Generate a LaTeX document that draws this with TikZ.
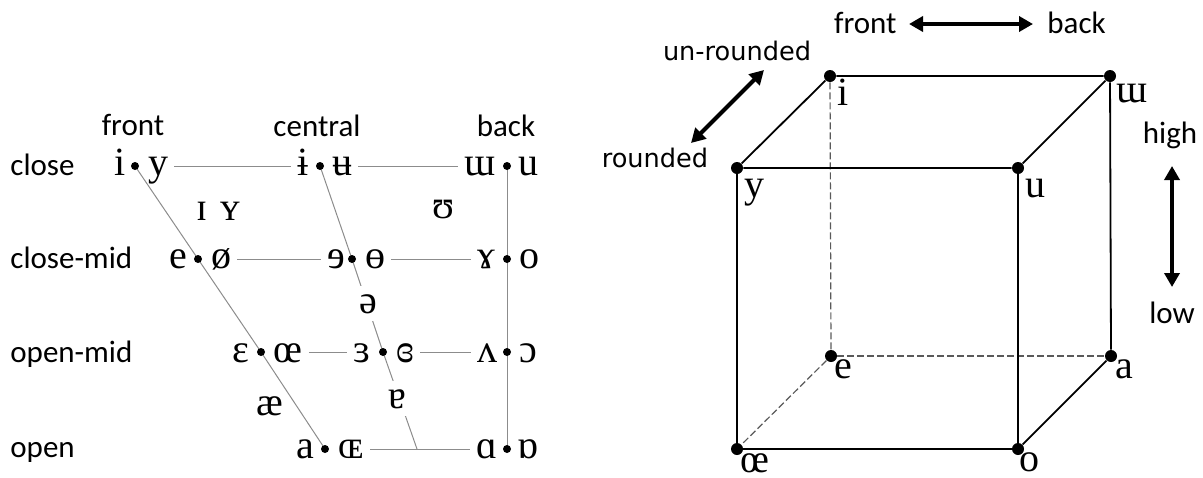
\documentclass[tikz,border=0pt]{standalone}
\usepackage{fontspec}
\setmainfont{Liberation Serif}
\newfontfamily\labfont{Carlito}
\newfontfamily\djfont{DejaVu Sans}
\usetikzlibrary{arrows.meta}
\begin{document}
\begin{tikzpicture}[x=0.5pt,y=-0.5pt,
  ipa/.style={anchor=base,inner sep=0pt,font=\fontsize{20}{24}\selectfont},
  lab/.style={anchor=base,inner sep=0pt,font=\labfont\fontsize{15.5}{18}\selectfont},
  djlab/.style={anchor=base,inner sep=0pt,font=\djfont\fontsize{12.8}{15}\selectfont},
  vdot/.style={circle,fill=black,inner sep=0pt,minimum size=4pt},
  bigdot/.style={circle,fill=black,inner sep=0pt,minimum size=6pt},
  gline/.style={draw=black!45, line width=0.5pt},
  hline/.style={gline, shorten <=3pt, shorten >=3pt},
  cubeline/.style={line width=0.9pt},
  dashline/.style={line width=0.6pt, draw=black!65, dash pattern=on 3.5pt off 1.5pt},
  dbl/.style={line width=2pt,{Triangle[length=7pt,width=7.5pt]}-{Triangle[length=7pt,width=7.5pt]}},
  gap/.style={fill=white, inner sep=4pt}
]
\useasboundingbox (0,0) rectangle (1203,477);

% ---------------- left chart ----------------
\coordinate (pF1) at (135,166); \coordinate (pC1) at (320,166); \coordinate (pB1) at (507,166);
\coordinate (pF2) at (198,259); \coordinate (pC2) at (352,259); \coordinate (pB2) at (507,259);
\coordinate (pF3) at (261,352); \coordinate (pC3) at (383,352); \coordinate (pB3) at (507,352);
\coordinate (pF4) at (325,449); \coordinate (pC4) at (417,449); \coordinate (pB4) at (507,449);

% headers and row labels
\node[lab] (hFront) at (133,135) {front};
\node[lab] (hCentral) at (317,136) {central};
\node[lab] (hBack) at (506,136) {back};
\node[lab,anchor=base west] (rClose) at (10,175) {close};
\node[lab,anchor=base west] (rCloseMid) at (10,268) {close-mid};
\node[lab,anchor=base west] (rOpenMid) at (10,362) {open-mid};
\node[lab,anchor=base west] (rOpen) at (10,457) {open};

% vowel letters
\node[ipa] (l11) at (120,175) {i};  \node[ipa] (r11) at (158,175) {y};
\node[ipa] (l12) at (303,175) {ɨ};  \node[ipa] (r12) at (342,175) {ʉ};
\node[ipa] (l13) at (480,175) {ɯ};  \node[ipa] (r13) at (528,175) {u};
\node[ipa] (l21) at (178,268) {e};  \node[ipa] (r21) at (221,268) {ø};
\node[ipa] (l22) at (336,268) {ɘ};  \node[ipa] (r22) at (375,268) {ɵ};
\node[ipa] (l23) at (486,268) {ɤ};  \node[ipa] (r23) at (529,268) {o};
\node[ipa] (l31) at (241,362) {ɛ};  \node[ipa] (r31) at (288,362) {œ};
\node[ipa] (l32) at (362,362) {ɜ};  \node[ipa] (r32) at (405,362) {ɞ};
\node[ipa] (l33) at (487,362) {ʌ};  \node[ipa] (r33) at (528,362) {ɔ};
\node[ipa] (l41) at (305,458) {a};  \node[ipa] (r41) at (351,458) {ɶ};
\node[ipa] (l43) at (487,458) {ɑ};  \node[ipa] (r43) at (528,458) {ɒ};
\node[ipa] (sI) at (202,220) {ɪ};
\node[ipa] (sY) at (230,220) {ʏ};
\node[ipa] (sU) at (443,218) {ʊ};
\node[ipa] (sAE) at (270,415) {æ};

% horizontal lines
\draw[hline] (r11.east |- pF1) -- (l12.west |- pF1);
\draw[hline] (r12.east |- pF1) -- (l13.west |- pF1);
\draw[hline] (r21.east |- pF2) -- (l22.west |- pF2);
\draw[hline] (r22.east |- pF2) -- (l23.west |- pF2);
\draw[hline] (r31.east |- pF3) -- (l32.west |- pF3);
\draw[hline] (r32.east |- pF3) -- (l33.west |- pF3);
\draw[hline] (r41.east |- pF4) -- (l43.west |- pF4);

% slanted / vertical lines
\draw[gline] (pF1) -- (pF2) -- (pF3) -- (pF4);
\draw[gline] (pC1) -- (pC2) -- (pC3) -- (pC4);
\draw[gline] (pB1) -- (pB4);
\node[ipa,gap] (schwa) at (368,313) {ə};
\node[ipa,gap] (turnA) at (397,408) {ɐ};

\foreach \p in {F1,C1,B1,F2,C2,B2,F3,C3,B3,F4,B4}
  \node[vdot] (d\p) at (p\p) {};

% ---------------- cube ----------------
\node[bigdot] (vI) at (830,76) {};
\node[bigdot] (vW) at (1110,76) {};
\node[bigdot] (vY) at (737,168) {};
\node[bigdot] (vU) at (1018,168) {};
\node[bigdot] (vE) at (831,356) {};
\node[bigdot] (vA) at (1111,356) {};
\node[bigdot] (vOE) at (737,449) {};
\node[bigdot] (vO) at (1018,449) {};

\draw[dashline] (vI) -- (vE);
\draw[dashline] (vE) -- (vA);
\draw[dashline] (vE) -- (vOE);
\draw[cubeline] (vY) -- (vI) -- (vW) -- (vU) -- (vY);
\draw[cubeline] (vY) -- (vOE) -- (vO) -- (vU);
\draw[cubeline] (vW) -- (vA) -- (vO);

\node[ipa] (cI) at (843,105) {i};
\node[ipa] (cW) at (1132,102) {ɯ};
\node[ipa] (cY) at (754,197) {y};
\node[ipa] (cU) at (1035,197) {u};
\node[ipa] (cE) at (843,378) {e};
\node[ipa] (cA) at (1124,378) {a};
\node[ipa] (cOE) at (755,472) {œ};
\node[ipa] (cO) at (1029,471) {o};

% arrows and their labels
\coordinate (aR1) at (764,70); \coordinate (aR2) at (691,143);
\coordinate (aF) at (909,24);  \coordinate (aB) at (1033,24);
\coordinate (aH) at (1172,166); \coordinate (aL) at (1172,287);
\draw[dbl] (aR1) -- (aR2);
\draw[dbl] (aF) -- (aB);
\draw[dbl] (aH) -- (aL);

\node[djlab] (tUnr) at (737,60) {un-rounded};
\node[djlab] (tRnd) at (655,167) {rounded};
\node[lab,anchor=base east] (tFront) at (897,33) {front};
\node[lab,anchor=base west] (tBack) at (1047,33) {back};
\node[lab] (tHigh) at (1170,143) {high};
\node[lab] (tLow) at (1172,323) {low};
\end{tikzpicture}
\end{document}
